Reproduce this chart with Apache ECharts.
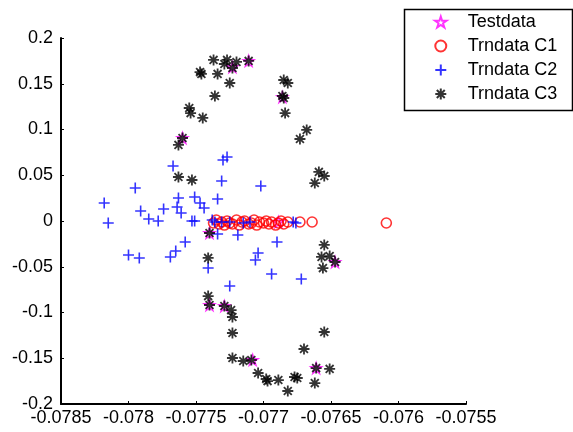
<!DOCTYPE html>
<html>
<head>
<meta charset="utf-8">
<script src="https://cdn.jsdelivr.net/npm/echarts@6/dist/echarts.min.js"></script>
<style>
  html, body { margin: 0; padding: 0; background: #fff; }
  #chart { width: 573px; height: 432px; }
</style>
</head>
<body>
<div id="chart"></div>
<script>
// Tick labels
const xTickLabels = ['-0.0785', '-0.078', '-0.0775', '-0.077', '-0.0765', '-0.076', '-0.0755'];
const yTickLabels = ['-0.2', '-0.15', '-0.1', '-0.05', '0', '0.05', '0.1', '0.15', '0.2'];

// Test samples
const testX = [-0.07723, -0.07711, -0.07686, -0.07760, -0.07740, -0.07740, -0.07729, -0.07708, -0.07661, -0.07647, -0.07689];
const testY = [0.1683, 0.1749, 0.1355, 0.0907, -0.0131, -0.0918, -0.0929, -0.1519, -0.1607, -0.0448, -0.0011];

// Training data, class 1
const c1X = [-0.07737, -0.07735, -0.07733, -0.07731, -0.07729, -0.07727, -0.07725, -0.07723, -0.07720, -0.07718,
             -0.07716, -0.07714, -0.07711, -0.07709, -0.07707, -0.07705, -0.07703, -0.07700, -0.07698, -0.07696,
             -0.07694, -0.07691, -0.07689, -0.07687, -0.07685, -0.07682, -0.07673, -0.07664, -0.07609];
const c1Y = [-0.0022, 0.0011, -0.0033, -0.0011, -0.0044, 0.0, -0.0022, -0.0033, 0.0011, -0.0044,
             -0.0011, 0.0, -0.0033, -0.0022, 0.0011, -0.0044, -0.0011, -0.0022, 0.0, -0.0033,
             -0.0011, -0.0044, -0.0022, 0.0, -0.0033, -0.0011, -0.0011, -0.0011, -0.0022];

// Training data, class 2
const c2X = [-0.07818, -0.07815, -0.07800, -0.07792, -0.07795, -0.07791, -0.07785, -0.07778, -0.07774, -0.07767,
             -0.07763, -0.07764, -0.07761, -0.07758, -0.07765, -0.07769, -0.07751, -0.07747, -0.07744, -0.07734,
             -0.07731, -0.07730, -0.07727, -0.07702, -0.07753, -0.07751, -0.07738, -0.07736, -0.07731, -0.07725,
             -0.07715, -0.07710, -0.07678, -0.07676, -0.07741, -0.07734, -0.07719, -0.07725, -0.07704, -0.07706,
             -0.07694, -0.07690, -0.07672];
const c2Y = [0.0197, -0.0022, -0.0372, -0.0404, 0.0361, 0.0109, 0.0022, 0.0, 0.0131, 0.0601,
             0.0251, 0.0153, 0.0087, -0.0230, -0.0328, -0.0393, 0.0262, 0.0197, 0.0142, 0.0240,
             0.0437, 0.0667, 0.0699, 0.0383, 0.0, 0.0, 0.0011, -0.0011, -0.0011, -0.0011,
             -0.0022, -0.0011, -0.0011, -0.0022, -0.0514, -0.0142, -0.0153, -0.0710, -0.0350, -0.0426,
             -0.0579, -0.0230, -0.0634];

// Training data, class 3
const c3X = [-0.07737, -0.07727, -0.07729, -0.07720, -0.07723, -0.07747, -0.07746, -0.07734, -0.07725, -0.07736,
             -0.07755, -0.07754, -0.07745, -0.07711, -0.07685, -0.07682, -0.07686, -0.07685, -0.07684, -0.07668,
             -0.07673, -0.07760, -0.07763, -0.07659, -0.07655, -0.07662, -0.07763, -0.07753, -0.07740, -0.07741,
             -0.07741, -0.07740, -0.07729, -0.07724, -0.07723, -0.07723, -0.07723, -0.07715, -0.07709, -0.07704,
             -0.07698, -0.07697, -0.07689, -0.07677, -0.07675, -0.07682, -0.07670, -0.07655, -0.07661, -0.07651,
             -0.07662, -0.07655, -0.07657, -0.07651, -0.07647, -0.07656];
const c3Y = [0.1760, 0.1760, 0.1716, 0.1738, 0.1672, 0.1628, 0.1607, 0.1607, 0.1508, 0.1366,
             0.1235, 0.1180, 0.1126, 0.1749, 0.1541, 0.1508, 0.1366, 0.1344, 0.1180, 0.0995,
             0.0896, 0.0907, 0.0831, 0.0536, 0.0492, 0.0415, 0.0481, 0.0448, -0.0131, -0.0404,
             -0.0820, -0.0918, -0.0929, -0.0973, -0.1049, -0.1224, -0.1497, -0.1530, -0.1519, -0.1661,
             -0.1727, -0.1749, -0.1738, -0.1705, -0.1716, -0.1858, -0.1399, -0.1213, -0.1607, -0.1617,
             -0.1771, -0.0262, -0.0393, -0.0383, -0.0448, -0.0514];

const xMin = -0.0785, xMax = -0.0755, xStep = 0.0005;
const yMin = -0.2, yMax = 0.2, yStep = 0.05;

const zip = (xs, ys) => xs.map((x, i) => [x, ys[i]]);

// Marker shapes
const starPath = 'path://M0,-10L2.245,-3.09L9.511,-3.09L3.633,1.18L5.878,8.09L0,3.82L-5.878,8.09L-3.633,1.18L-9.511,-3.09L-2.245,-3.09Z';
const plusPath = 'path://M0,-5L0,5M-5,0L5,0';
const asteriskPath = 'path://M0,-5L0,5M-5,0L5,0M-3.6,-3.6L3.6,3.6M-3.6,3.6L3.6,-3.6';

const FONT = 'Liberation Sans, Arial, sans-serif';

const chart = echarts.init(document.getElementById('chart'), null, { renderer: 'canvas' });

chart.setOption({
  animation: false,
  backgroundColor: '#ffffff',
  grid: { left: 61, right: 107, top: 38, bottom: 28, containLabel: false },
  xAxis: {
    type: 'value',
    min: xMin, max: xMax, interval: xStep,
    axisLine: { show: true, onZero: false, lineStyle: { color: '#000', width: 2 } },
    axisTick: { show: true, inside: true, length: 3, lineStyle: { color: '#000' } },
    splitLine: { show: false },
    axisLabel: {
      margin: 5, color: '#000', fontSize: 18, fontFamily: FONT,
      formatter: v => xTickLabels[Math.round((v - xMin) / xStep)] || ''
    }
  },
  yAxis: {
    type: 'value',
    min: yMin, max: yMax, interval: yStep,
    axisLine: { show: true, onZero: false, lineStyle: { color: '#000', width: 2 } },
    axisTick: { show: true, inside: true, length: 3, lineStyle: { color: '#000' } },
    splitLine: { show: false },
    axisLabel: {
      margin: 8, color: '#000', fontSize: 18, fontFamily: FONT,
      formatter: v => yTickLabels[Math.round((v - yMin) / yStep)] || ''
    }
  },
  legend: {
    orient: 'vertical',
    left: 434, top: 10,
    padding: 0, itemGap: 0,
    itemWidth: 44, itemHeight: 11,
    textStyle: { color: '#000', fontSize: 18, fontFamily: FONT, lineHeight: 24 },
    data: ['Testdata', 'Trndata C1', 'Trndata C2', 'Trndata C3']
  },
  graphic: [{
    type: 'rect', left: 402, top: 7, z: 100,
    shape: { width: 168, height: 101 },
    style: { fill: 'none', stroke: '#000', lineWidth: 1.5 }
  }],
  series: [
    {
      name: 'Testdata', type: 'scatter', symbol: starPath, symbolSize: 11,
      itemStyle: { color: 'rgba(0,0,0,0)', borderColor: '#ff00ff', borderWidth: 1.4 },
      data: zip(testX, testY)
    },
    {
      name: 'Trndata C1', type: 'scatter', symbol: 'circle', symbolSize: 10,
      itemStyle: { color: 'rgba(0,0,0,0)', borderColor: '#ff0000', borderWidth: 1.6 },
      data: zip(c1X, c1Y)
    },
    {
      name: 'Trndata C2', type: 'scatter', symbol: plusPath, symbolSize: 11,
      itemStyle: { color: 'rgba(0,0,0,0)', borderColor: '#0000ff', borderWidth: 1.6 },
      data: zip(c2X, c2Y)
    },
    {
      name: 'Trndata C3', type: 'scatter', symbol: asteriskPath, symbolSize: 11,
      itemStyle: { color: 'rgba(0,0,0,0)', borderColor: '#000000', borderWidth: 1.8 },
      data: zip(c3X, c3Y)
    }
  ]
});
</script>
</body>
</html>
